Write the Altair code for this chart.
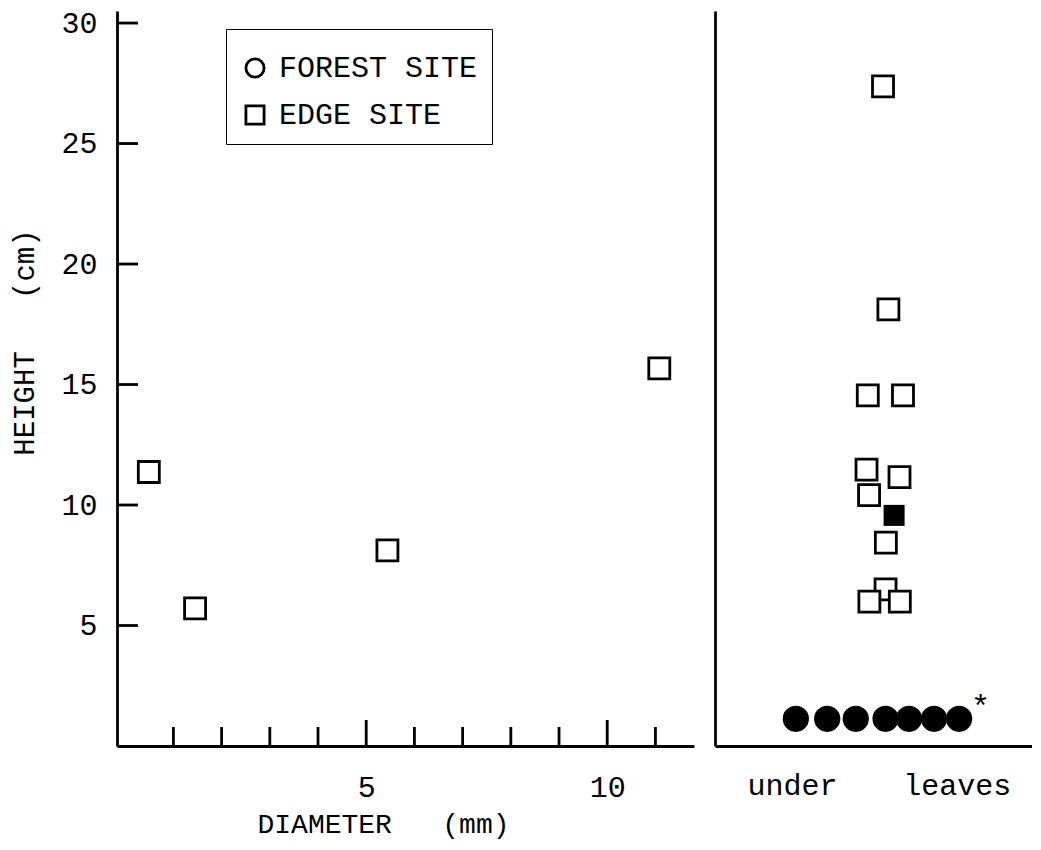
import altair as alt
import pandas as pd

# ---------------- data ----------------
# Left panel: EDGE SITE plants, stem diameter (mm) vs height (cm)
left_diameter = [0.49, 1.45, 5.44, 11.08]
left_height = [11.37, 5.71, 8.12, 15.67]
left_site = ["EDGE SITE", "EDGE SITE", "EDGE SITE", "EDGE SITE"]

# Right panel ("under leaves"): horizontal position index (0-10) and height (cm)
open_sq_pos = [5.30, 5.47, 4.82, 5.93, 4.78, 5.82, 4.86, 5.39, 5.38, 4.87, 5.83]
open_sq_height = [27.37, 18.12, 14.55, 14.55, 11.47, 11.16, 10.41, 8.44, 6.50, 5.99, 5.99]
filled_sq_pos = [5.65]
filled_sq_height = [9.57]
circle_pos = [2.55, 3.54, 4.44, 5.38, 6.12, 6.91, 7.70]
circle_height = [1.13, 1.13, 1.13, 1.13, 1.13, 1.13, 1.13]
star_pos = [8.38]
star_height = [1.96]

# axis tick values / labels
y_tick_values = [5, 10, 15, 20, 25, 30]
x_major_ticks = [5, 10]
x_minor_ticks = [1, 2, 3, 4, 6, 7, 8, 9, 11]
right_label_pos = [2.43, 7.63]
right_label_text = ["under", "leaves"]
site_domain = ["FOREST SITE", "EDGE SITE"]

# ---------------- layout constants ----------------
FONT = "Liberation Mono"
H = 735
LW = 577
RW = 317
SW = 2.8

yscale = alt.Scale(domain=[0, 30.5], nice=False, zero=False)
xscale_left = alt.Scale(domain=[-0.17, 11.8], nice=False, zero=False)
xscale_right = alt.Scale(domain=[0, 10], nice=False, zero=False)

label_expr = "datum.value < 5 ? '%s' : '%s'" % (right_label_text[0], right_label_text[1])

left_x_axis = alt.Axis(values=x_major_ticks, ticks=False, tickSize=0, grid=False,
                       labelPadding=26, labelFontSize=30, labelFont=FONT,
                       title="DIAMETER\u00a0\u00a0\u00a0(mm)", titleFont=FONT,
                       titleFontSize=28, titleFontWeight="normal",
                       titleX=266, titleY=78, titleBaseline="middle", titleAlign="center")
left_y_axis = alt.Axis(values=y_tick_values, ticks=False, tickSize=0, grid=False,
                       labelPadding=20, labelFontSize=30, labelFont=FONT,
                       title="HEIGHT\u00a0\u00a0\u00a0(cm)", titleFont=FONT,
                       titleFontSize=29, titleFontWeight="normal", titleAngle=270,
                       titleX=-93, titleY=331, titleBaseline="middle", titleAlign="center")
right_x_axis = alt.Axis(values=right_label_pos, labelExpr=label_expr, ticks=False, tickSize=0,
                        grid=False, labelPadding=24, labelFontSize=30, labelFont=FONT,
                        title="")
right_y_axis = alt.Axis(labels=False, ticks=False, tickSize=0, grid=False, title="")

left_df = pd.DataFrame({"diameter": left_diameter, "height": left_height, "site": left_site})

# ---------------- left panel ----------------
left_points = alt.Chart(left_df).mark_point(
    filled=False, size=441, strokeWidth=SW, color="black", opacity=1
).encode(
    x=alt.X("diameter:Q", scale=xscale_left, axis=left_x_axis),
    y=alt.Y("height:Q", scale=yscale, axis=left_y_axis),
    shape=alt.Shape("site:N",
                    scale=alt.Scale(domain=site_domain, range=["circle", "square"]),
                    legend=alt.Legend(orient="none", legendX=109, legendY=18,
                                      title="\u00a0", titleFontSize=6, titlePadding=4,
                                      direction="vertical", labelLimit=0,
                                      strokeColor="black", fillColor="white",
                                      padding=14, rowPadding=17, labelOffset=9,
                                      labelFont=FONT, labelFontSize=30, labelColor="black",
                                      symbolSize=330, symbolStrokeWidth=SW,
                                      symbolStrokeColor="black", symbolFillColor="white")),
)

ytick = alt.Chart(pd.DataFrame({"height": y_tick_values})).mark_rule(
    color="black", strokeWidth=SW
).encode(
    y=alt.Y("height:Q", scale=yscale, axis=left_y_axis),
    x=alt.value(0), x2=alt.value(21),
)

xtick_minor = alt.Chart(pd.DataFrame({"diameter": x_minor_ticks})).mark_rule(
    color="black", strokeWidth=SW
).encode(
    x=alt.X("diameter:Q", scale=xscale_left, axis=left_x_axis),
    y=alt.value(H), y2=alt.value(H - 19),
)

xtick_major = alt.Chart(pd.DataFrame({"diameter": x_major_ticks})).mark_rule(
    color="black", strokeWidth=SW
).encode(
    x=alt.X("diameter:Q", scale=xscale_left, axis=left_x_axis),
    y=alt.value(H), y2=alt.value(H - 26),
)

left = alt.layer(left_points, ytick, xtick_minor, xtick_major).properties(width=LW, height=H)

# ---------------- right panel ----------------
open_df = pd.DataFrame({"pos": open_sq_pos, "height": open_sq_height})
filled_df = pd.DataFrame({"pos": filled_sq_pos, "height": filled_sq_height})
circ_df = pd.DataFrame({"pos": circle_pos, "height": circle_height})
star_df = pd.DataFrame({"pos": star_pos, "height": star_height})

rx = alt.X("pos:Q", scale=xscale_right, axis=right_x_axis)
ry = alt.Y("height:Q", scale=yscale, axis=right_y_axis)

right_open = alt.Chart(open_df).mark_square(
    size=441, fill="white", stroke="black", strokeWidth=SW, opacity=1
).encode(x=rx, y=ry)

right_filled = alt.Chart(filled_df).mark_square(
    size=441, color="black", opacity=1
).encode(x=rx, y=ry)

right_circ = alt.Chart(circ_df).mark_circle(
    size=690, color="black", opacity=1
).encode(x=rx, y=ry)

right_star = alt.Chart(star_df).mark_text(
    text="*", font=FONT, fontSize=32, color="black", baseline="middle", align="center", dy=8
).encode(x=rx, y=ry)

right = alt.layer(right_open, right_filled, right_circ, right_star).properties(width=RW, height=H)

chart = alt.hconcat(left, right, spacing=21).properties(
    padding={"left": 2, "top": 0, "right": 0, "bottom": 4}
).configure_view(
    stroke=None
).configure_axis(
    domainColor="black", domainWidth=SW, labelColor="black", titleColor="black"
)

chart.save("out.html", embed_options={"renderer": "svg", "actions": False})
